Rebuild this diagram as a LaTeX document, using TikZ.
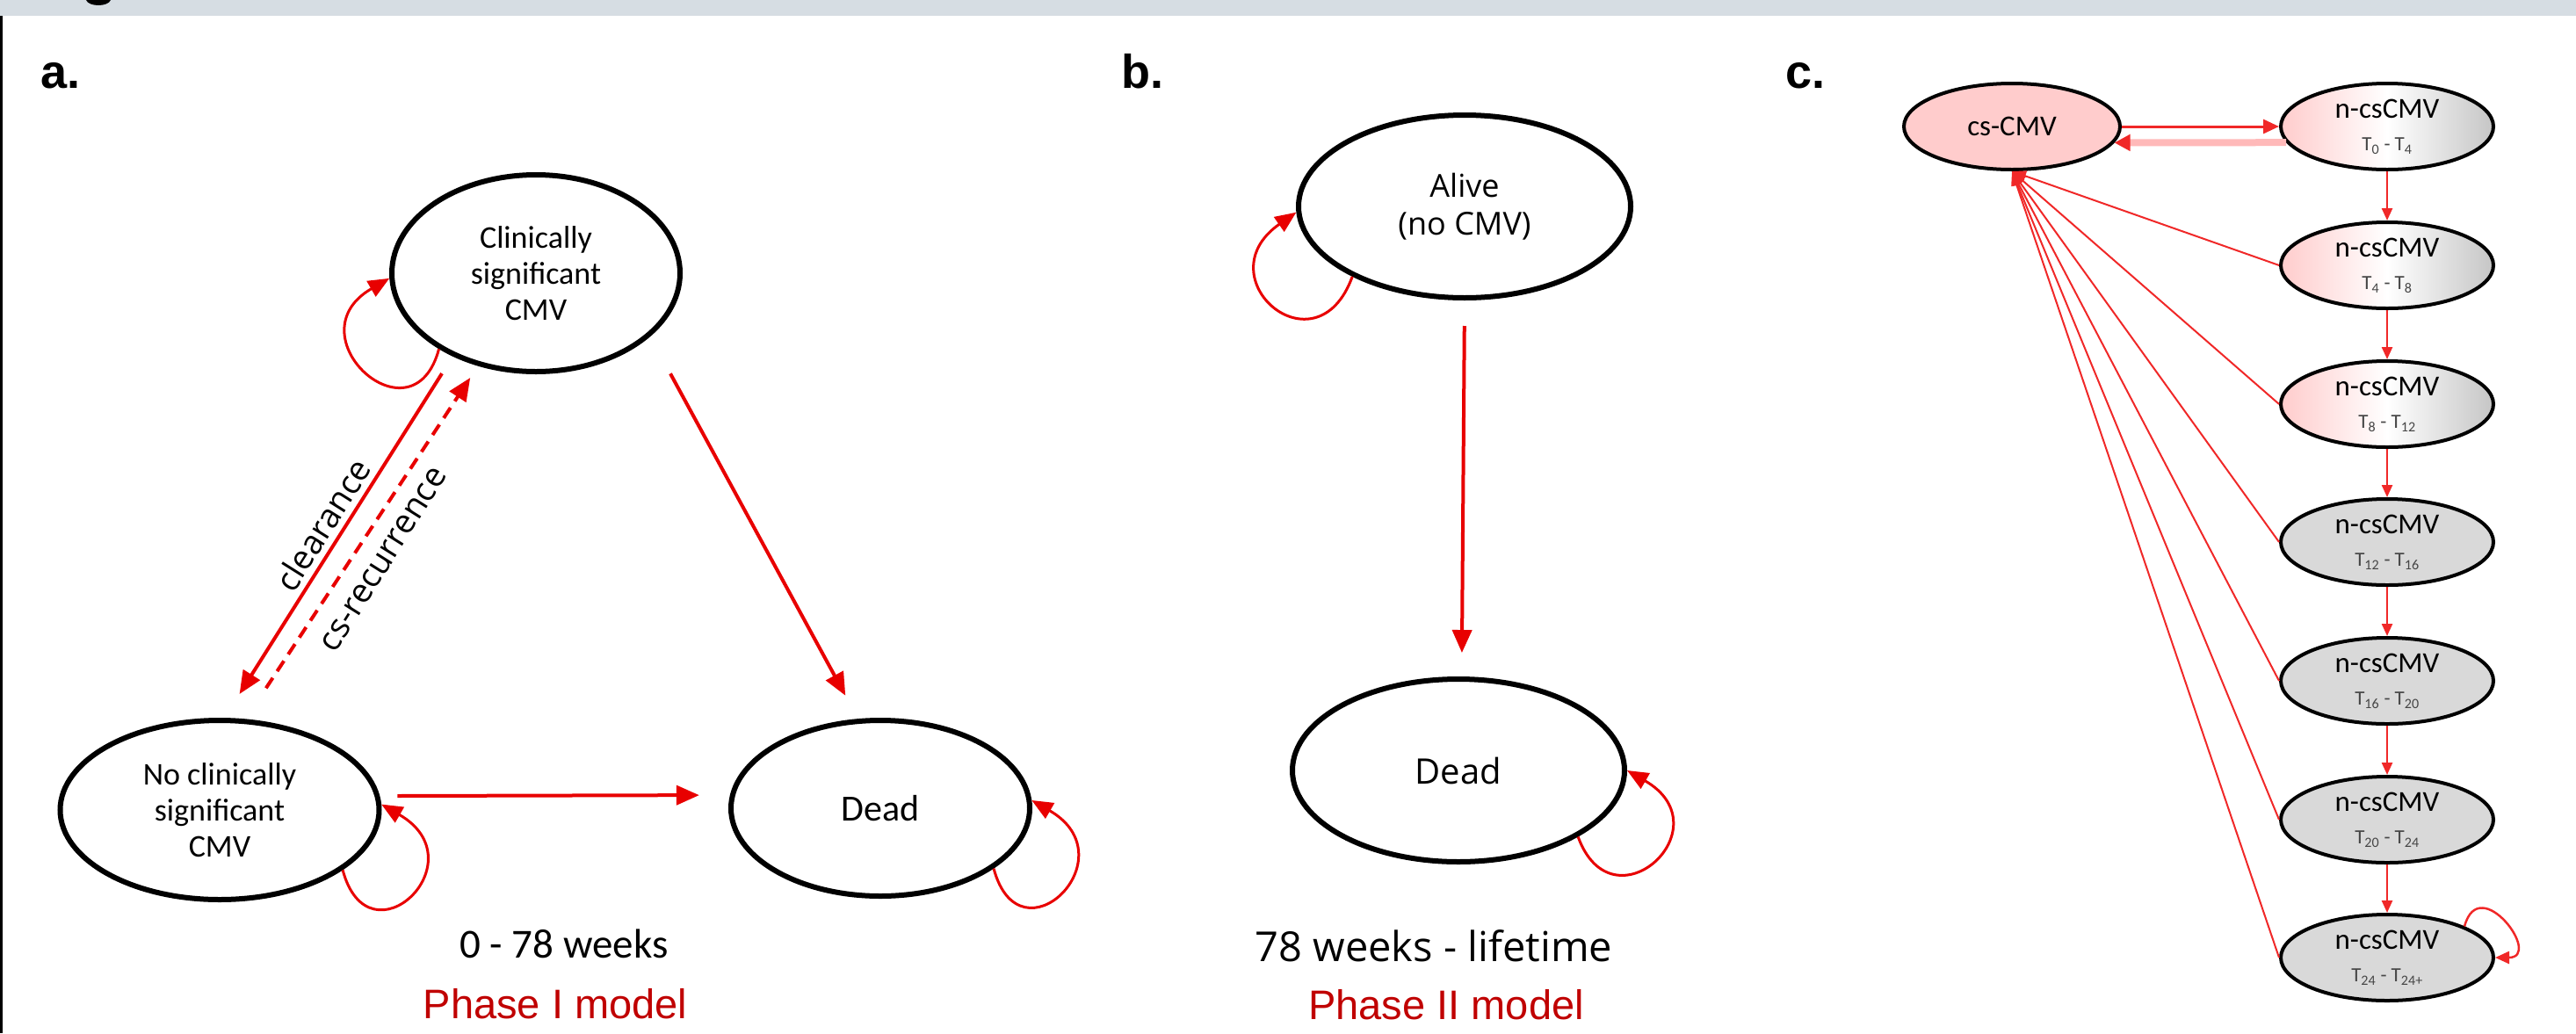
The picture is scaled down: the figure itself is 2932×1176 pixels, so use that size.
\documentclass[tikz,border=0pt]{standalone}
\usepackage{fontspec}
\setmainfont{Liberation Sans}
\newfontfamily\fcarl{Carlito}
\newfontfamily\fopen{Open Sans}
\usetikzlibrary{shapes.geometric,arrows.meta}
\definecolor{arred}{RGB}{232,0,0}
\definecolor{phred}{RGB}{192,0,0}
\definecolor{bannerc}{RGB}{214,221,227}
\definecolor{pinkfill}{RGB}{255,204,204}
\definecolor{greyfill}{RGB}{217,217,217}
\definecolor{tgrey}{RGB}{70,70,70}
\definecolor{cred}{RGB}{240,40,40}
\definecolor{palered}{RGB}{255,185,185}
\newcommand\mytrow[2]{n-csCMV\\[1pt]{\color{tgrey}\fontsize{23}{26}\selectfont T\textsubscript{#1} - T\textsubscript{#2}}}
\begin{document}
\begin{tikzpicture}[x=1pt,y=1pt,
  bigell/.style={ellipse, draw=black, line width=6pt, inner sep=0pt, align=center},
  bell/.style={ellipse, draw=black, line width=6pt, inner sep=0pt, align=center, minimum width=378pt, minimum height=208pt, font=\fopen\fontsize{36}{43}\selectfont},
  fa/.style={font=\fcarl\fontsize{36}{41}\selectfont},
  arrA/.style={draw=arred, line width=4pt, -{Triangle[length=26pt,width=22pt]}},
  loopA/.style={draw=arred, line width=3pt, -{Triangle[length=24pt,width=20pt]}},
  dsh/.style={dash pattern=on 14pt off 9pt},
  lab/.style={font=\bfseries\fontsize{54}{60}\selectfont, anchor=base west, inner sep=0pt},
  cnode/.style={ellipse, draw=black, line width=4pt, inner sep=0pt, minimum width=242pt, minimum height=98pt, align=center, font=\fcarl\fontsize{33}{36}\selectfont},
  grad/.style={left color=pinkfill, right color=gray!45, middle color=white},
  gfill/.style={fill=greyfill},
  carr/.style={draw=cred, line width=2.5pt, -{Triangle[length=14pt,width=12pt]}},
  cdiag/.style={draw=cred, line width=2pt, -{Triangle[length=16pt,width=12pt]}}
]
\useasboundingbox (0,0) rectangle (2932,-1176);
% banner and frame
\fill[bannerc] (0,0) rectangle (2932,-18);
\fill[black] (98,0) .. controls (101,-8) and (123,-8) .. (126,0) -- cycle;
\fill[black] (0,-18) rectangle (3,-1176);

% panel labels
\node[lab] (la) at (46,-100) {a.};
\node[lab] (lb) at (1276,-100) {b.};
\node[lab] (lc) at (2032,-100) {c.};

% ---------- panel a ----------
\node[bigell, fa, minimum width=328pt, minimum height=224pt] (acs) at (610,-311) {Clinically\\significant\\CMV};
\node[bigell, fa, minimum width=363pt, minimum height=204pt] (ancs) at (250,-922) {No clinically\\significant\\CMV};
\node[bigell, minimum width=340pt, minimum height=200pt, font=\fcarl\fontsize{42}{48}\selectfont] (adead) at (1002,-920) {Dead};

\draw[arrA, shorten <=48pt, shorten >=30pt] (acs.-29) -- (adead.104);
\draw[arrA, shorten <=23pt, shorten >=32pt] (acs.225) -- (ancs.87);
\draw[arrA, dsh, shorten <=42pt, shorten >=16pt] (ancs.74) -- (acs.238);
\draw[arrA, shorten <=20pt, shorten >=35pt] (ancs.5) -- (adead.175);

\draw[loopA] (acs.218) to[out=-105, in=210, out distance=115pt, in distance=130pt] (acs.182);
\draw[loopA] (ancs.-26) to[out=-75, in=-30, out distance=115pt, in distance=130pt] (ancs.2);
\draw[loopA] (adead.-28) to[out=-75, in=-30, out distance=115pt, in distance=130pt] (adead.3);

\node[rotate=57.8, font=\fopen\fontsize{38}{44}\selectfont] (lclr) at (367,-597) {clearance};
\node[rotate=57.8, font=\fopen\fontsize{38}{44}\selectfont] (lrec) at (437,-637) {cs-recurrence};

\node[font=\fcarl\fontsize{47}{52}\selectfont] (ta) at (642,-1074) {0 - 78 weeks};
\node[font=\fontsize{47}{52}\selectfont, text=phred] (pa) at (632,-1143) {Phase I model};

% ---------- panel b ----------
\node[bell] (balive) at (1667,-235) {Alive\\(no CMV)};
\node[bell, font=\fopen\fontsize{40}{46}\selectfont] (bdead) at (1660,-877) {Dead};
\draw[arrA, shorten <=29pt, shorten >=27pt] (balive.south) -- (bdead.88);
\draw[loopA] (balive.212) to[out=-110, in=215, out distance=120pt, in distance=130pt] (balive.182);
\draw[loopA] (bdead.-29) to[out=-70, in=-30, out distance=115pt, in distance=130pt] (bdead.0);

\node[font=\fopen\fontsize{47}{53}\selectfont] (tb) at (1632,-1077) {78 weeks - lifetime};
\node[font=\fontsize{47}{52}\selectfont, text=phred] (pb) at (1646,-1144) {Phase II model};

% ---------- panel c ----------
\node[cnode, fill=pinkfill, minimum width=246pt] (ccs) at (2290,-144) {cs-CMV};
\node[cnode, grad] (c0) at (2717,-144) {\mytrow{0}{4}};
\node[cnode, grad] (c1) at (2717,-302) {\mytrow{4}{8}};
\node[cnode, grad] (c2) at (2717,-460) {\mytrow{8}{12}};
\node[cnode, gfill] (c3) at (2717,-617) {\mytrow{12}{16}};
\node[cnode, gfill] (c4) at (2717,-775) {\mytrow{16}{20}};
\node[cnode, gfill] (c5) at (2717,-933) {\mytrow{20}{24}};
\node[cnode, gfill] (c6) at (2717,-1090) {\mytrow{24}{24+}};

\draw[draw=cred, line width=3pt, -{Triangle[length=18pt,width=16pt]}] (ccs.east) -- (c0.west);
\draw[draw=palered, line width=8pt, -{Triangle[length=18pt,width=18pt,color=cred]}] (c0.189) -- (ccs.-9);

\foreach \a/\b in {c0/c1,c1/c2,c2/c3,c3/c4,c4/c5,c5/c6}
  \draw[carr] (\a.south) -- (\b.north);
\foreach \a in {c1,c2,c3,c4,c5,c6}
  \draw[cdiag] (\a.west) -- (ccs.south);

\draw[draw=cred, line width=2.5pt, -{Triangle[length=16pt,width=14pt]}] (c6.22) to[out=75, in=0, out distance=65pt, in distance=55pt] (c6.east);
\end{tikzpicture}
\end{document}
